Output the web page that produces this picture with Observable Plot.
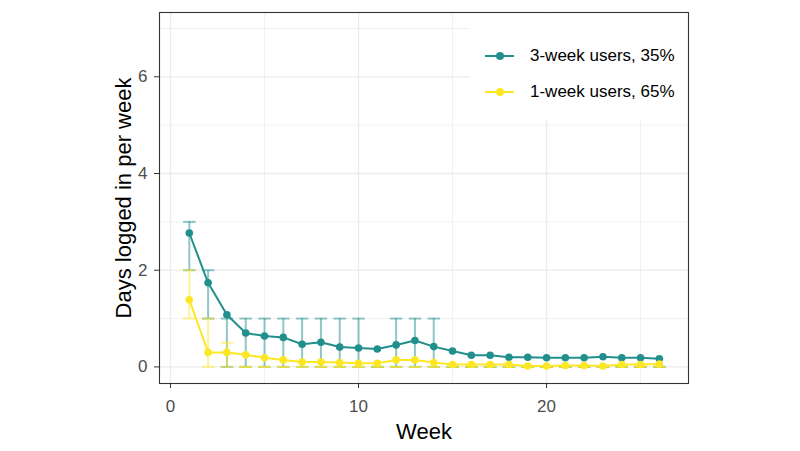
<!DOCTYPE html>
<html>
<head>
<meta charset="utf-8">
<script src="https://cdn.jsdelivr.net/npm/d3@7"></script>
<script src="https://cdn.jsdelivr.net/npm/@observablehq/plot@0.6"></script>
<style>
  html, body { margin: 0; padding: 0; background: #fff; }
  #wrap { position: relative; width: 800px; height: 451px; font-family: "Liberation Sans", Arial, sans-serif; }
  #legend { position: absolute; left: 470px; top: 14px; width: 217px; height: 105px; background: #fff; }
  .row { position: absolute; left: 0; height: 20px; display: flex; align-items: center; font-size: 17px; color: #000; }
  .key { position: relative; width: 29px; height: 20px; margin-left: 15px; margin-right: 16px; }
  .key .ln { position: absolute; left: 0; right: 0; top: 9px; height: 2px; }
  .key .pt { position: absolute; left: 10.5px; top: 6px; width: 8px; height: 8px; border-radius: 50%; }
</style>
</head>
<body>
<div id="wrap"></div>
<script>
// Categories
const weeks = [1,2,3,4,5,6,7,8,9,10,11,12,13,14,15,16,17,18,19,20,21,22,23,24,25,26];
const seriesNames = ["3-week users, 35%", "1-week users, 65%"];
const seriesColors = ["#21908C", "#FDE725"];

// Series values (mean days logged in per week)
const threeWeekMean = [2.77,1.74,1.08,0.70,0.64,0.61,0.47,0.51,0.41,0.39,0.37,0.455,0.545,0.42,0.33,0.24,0.24,0.20,0.20,0.19,0.19,0.19,0.21,0.19,0.19,0.17];
const threeWeekLow  = [2,1,0,0,0,0,0,0,0,0,0,0,0,0,0,0,0,0,0,0,0,0,0,0,0,0];
const threeWeekHigh = [3,2,1,1,1,1,1,1,1,1,0,1,1,1,0,0,0,0,0,0,0,0,0,0,0,0];

const oneWeekMean = [1.39,0.30,0.30,0.25,0.19,0.145,0.10,0.10,0.09,0.075,0.075,0.145,0.145,0.09,0.05,0.05,0.05,0.05,0.02,0.02,0.03,0.03,0.02,0.05,0.05,0.06];
const oneWeekLow  = [1,0,0,0,0,0,0,0,0,0,0,0,0,0,0,0,0,0,0,0,0,0,0,0,0,0];
const oneWeekHigh = [2,1,0.5,0,0,0,0,0,0,0,0,0,0,0,0,0,0,0,0,0,0,0,0,0,0,0];

// Tick labels
const xTicks = [0, 10, 20];
const xMinor = [5, 15, 25];
const yTicks = [0, 2, 4, 6];
const yMinor = [1, 3, 5, 7];

const capHalf = 0.33;

function build(means, lows, highs, name) {
  return weeks.map((w, i) => ({week: w, mean: means[i], lo: lows[i], hi: highs[i], group: name}));
}
const threeData = build(threeWeekMean, threeWeekLow, threeWeekHigh, seriesNames[0]);
const oneData = build(oneWeekMean, oneWeekLow, oneWeekHigh, seriesNames[1]);

const gridColor = "#EBEBEB";
const tickColor = "#333333";

function errorMarks(data, color) {
  return [
    Plot.ruleX(data, {x: "week", y1: "lo", y2: "hi", stroke: color, strokeOpacity: 0.5, strokeWidth: 2}),
    Plot.link(data, {x1: d => d.week - capHalf, x2: d => d.week + capHalf, y1: "hi", y2: "hi", stroke: color, strokeOpacity: 0.5, strokeWidth: 2}),
    Plot.link(data, {x1: d => d.week - capHalf, x2: d => d.week + capHalf, y1: "lo", y2: "lo", stroke: color, strokeOpacity: 0.5, strokeWidth: 2})
  ];
}

const chart = Plot.plot({
  width: 800,
  height: 451,
  marginLeft: 159,
  marginRight: 112,
  marginTop: 12,
  marginBottom: 68,
  style: {fontFamily: "'Liberation Sans', Arial, sans-serif", background: "#fff", overflow: "visible"},
  x: {domain: [-0.585, 27.55]},
  y: {domain: [-0.343, 7.33]},
  marks: [
    Plot.ruleY(yMinor, {stroke: gridColor, strokeWidth: 0.7}),
    Plot.ruleX(xMinor, {stroke: gridColor, strokeWidth: 0.7}),
    Plot.ruleY(yTicks, {stroke: gridColor, strokeWidth: 1.3}),
    Plot.ruleX(xTicks, {stroke: gridColor, strokeWidth: 1.3}),
    ...errorMarks(threeData, seriesColors[0]),
    ...errorMarks(oneData, seriesColors[1]),
    Plot.line(threeData, {x: "week", y: "mean", stroke: seriesColors[0], strokeWidth: 2}),
    Plot.line(oneData, {x: "week", y: "mean", stroke: seriesColors[1], strokeWidth: 2}),
    Plot.dot(threeData, {x: "week", y: "mean", fill: seriesColors[0], r: 3.8}),
    Plot.dot(oneData, {x: "week", y: "mean", fill: seriesColors[1], r: 3.8}),
    Plot.frame({stroke: tickColor, strokeWidth: 1.1}),
    Plot.axisX({ticks: xTicks, tickSize: 5, tickPadding: 11, fontSize: 17, color: "#4D4D4D", stroke: tickColor, label: null}),
    Plot.axisY({ticks: yTicks, tickSize: 5, tickPadding: 7, fontSize: 17, color: "#4D4D4D", stroke: tickColor, label: null, tickFormat: d => String(d)}),
    Plot.axisX({ticks: [], label: "Week", labelAnchor: "center", labelArrow: "none", labelOffset: 55, fontSize: 22, color: "#000"}),
    Plot.axisY({ticks: [], label: "Days logged in per week", labelAnchor: "center", labelArrow: "none", labelOffset: 44, fontSize: 22, color: "#000"})
  ]
});

const wrap = document.getElementById("wrap");
wrap.appendChild(chart);

// Legend
const legend = document.createElement("div");
legend.id = "legend";
const rowTops = [42, 78];
seriesNames.forEach((name, i) => {
  const row = document.createElement("div");
  row.className = "row";
  row.style.top = (rowTops[i] - 10) + "px";
  const key = document.createElement("div");
  key.className = "key";
  const ln = document.createElement("div");
  ln.className = "ln"; ln.style.background = seriesColors[i];
  const pt = document.createElement("div");
  pt.className = "pt"; pt.style.background = seriesColors[i];
  key.appendChild(ln); key.appendChild(pt);
  const label = document.createElement("span");
  label.textContent = name;
  row.appendChild(key); row.appendChild(label);
  legend.appendChild(row);
});
wrap.appendChild(legend);
</script>
</body>
</html>
